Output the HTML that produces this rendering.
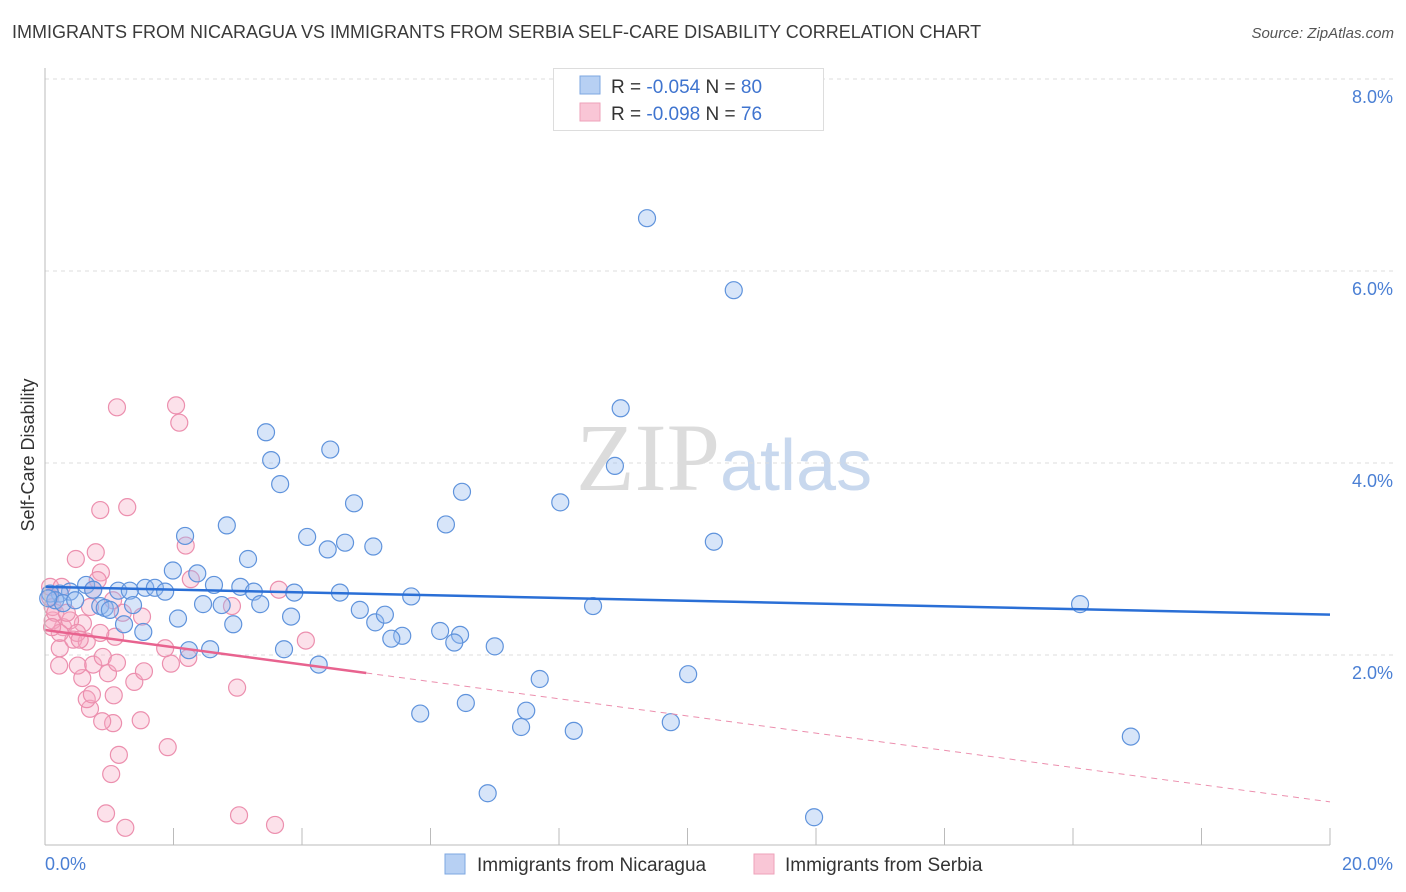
<!DOCTYPE html>
<html><head><meta charset="utf-8"><style>
body{margin:0;width:1406px;height:892px;background:#fff;font-family:"Liberation Sans",sans-serif;overflow:hidden;position:relative}
.t{position:absolute}
</style></head><body>
<div class="t" style="left:12px;top:22px;font-size:18px;color:#3a3a3a">IMMIGRANTS FROM NICARAGUA VS IMMIGRANTS FROM SERBIA SELF-CARE DISABILITY CORRELATION CHART</div>
<div class="t" style="right:12px;top:25px;font-size:15px;color:#555;font-style:italic">Source: ZipAtlas.com</div>
<svg id="chart" width="1406" height="892" style="position:absolute;left:0;top:0" font-family="Liberation Sans, sans-serif">
<text x="720" y="490" text-anchor="end" font-size="96" fill="#dcdcdc" font-family="Liberation Serif, serif">ZIP</text>
<text x="720" y="490" font-size="72" fill="#c8d8ee">atlas</text>
<text transform="translate(34,455) rotate(-90)" text-anchor="middle" font-size="18" fill="#333">Self-Care Disability</text>
<g id="grid"></g><g id="pts"></g><g id="lines"></g>
<line x1="45" y1="68" x2="45" y2="845" stroke="#bbb"/>
<line x1="45" y1="845" x2="1330" y2="845" stroke="#bbb"/>
<text x="45" y="870" font-size="18" fill="#4a7fd4">0.0%</text>
<text x="1393" y="870" text-anchor="end" font-size="18" fill="#4a7fd4">20.0%</text>
<g>
<rect x="553.5" y="68.5" width="270" height="62" fill="#fff" stroke="#ddd"/>
<rect x="580" y="76" width="20" height="18" fill="#b7d0f3" stroke="#7ea7e2"/>
<rect x="580" y="103" width="20" height="18" fill="#f9c6d6" stroke="#eea2ba"/>
<text x="611" y="93" font-size="19" fill="#333">R = <tspan fill="#3f74cf">-0.054</tspan>   N = <tspan fill="#3f74cf">80</tspan></text>
<text x="611" y="120" font-size="19" fill="#333">R = <tspan fill="#3f74cf">-0.098</tspan>   N = <tspan fill="#3f74cf"> 76</tspan></text>
</g>
<g>
<rect x="445" y="854" width="20" height="20" fill="#b7d0f3" stroke="#7ea7e2"/>
<text x="477" y="871" font-size="19" fill="#333">Immigrants from Nicaragua</text>
<rect x="754" y="854" width="20" height="20" fill="#f9c6d6" stroke="#eea2ba"/>
<text x="785" y="871" font-size="19" fill="#333">Immigrants from Serbia</text>
</g>
</svg>
<script>
const yTicks=[2,4,6,8];
const yTickLabels=["2.0%","4.0%","6.0%","8.0%"];
const xTicks=[0,2,4,6,8,10,12,14,16,18,20];
const blueX=[9.37,10.72,8.96,3.44,3.52,4.44,3.66,8.87,6.49,4.81,8.02,2.83,6.24,2.18,4.08,4.67,5.11,4.40,10.41,3.16,1.99,2.37,2.63,3.04,1.56,1.71,1.14,1.32,1.87,3.25,3.88,4.59,5.70,0.64,0.75,0.39,0.23,0.08,0.16,0.28,0.86,0.93,1.37,2.46,2.75,3.35,8.53,16.11,4.90,5.14,5.29,3.83,2.07,1.23,1.53,2.93,5.56,6.15,6.46,5.39,6.37,7.00,2.57,2.24,3.72,4.26,10.01,7.70,6.55,5.84,7.49,7.41,8.23,9.74,16.90,6.89,11.97,1.01,0.47,0.05];
const blueY=[6.55,5.80,4.57,4.32,4.03,4.14,3.78,3.97,3.70,3.58,3.59,3.35,3.36,3.24,3.23,3.17,3.13,3.10,3.18,3.00,2.88,2.85,2.73,2.71,2.70,2.70,2.67,2.67,2.66,2.66,2.65,2.65,2.61,2.73,2.68,2.66,2.64,2.64,2.57,2.54,2.51,2.49,2.52,2.53,2.52,2.53,2.51,2.53,2.47,2.34,2.42,2.40,2.38,2.32,2.24,2.32,2.20,2.25,2.21,2.17,2.13,2.09,2.06,2.05,2.06,1.90,1.80,1.75,1.50,1.39,1.42,1.25,1.21,1.30,1.15,0.56,0.31,2.47,2.57,2.59];
const pinkX=[1.12,2.04,2.09,0.86,1.28,0.48,0.79,0.87,2.19,2.27,3.64,2.91,4.06,2.99,1.91,1.15,1.03,0.95,1.25,3.02,3.58,1.49,1.06,0.89,0.70,0.65,0.73,1.07,0.58,1.39,1.54,0.98,0.51,0.22,0.75,1.96,2.23,1.87,0.90,0.23,0.44,0.65,1.09,0.86,0.59,0.28,0.12,0.39,1.51,1.21,0.70,0.12,0.08,0.16,0.23,0.50,0.75,0.82,1.06,0.11,0.34,0.54,1.12,0.08,0.26];
const pinkY=[4.58,4.60,4.42,3.51,3.54,3.00,3.07,2.86,3.14,2.79,2.68,2.51,2.15,1.66,1.04,0.96,0.76,0.35,0.20,0.33,0.23,1.32,1.29,1.31,1.44,1.54,1.59,1.58,1.76,1.72,1.83,1.81,1.89,1.89,1.90,1.91,1.97,2.07,1.98,2.07,2.16,2.14,2.19,2.23,2.33,2.29,2.36,2.36,2.40,2.44,2.50,2.50,2.60,2.44,2.23,2.23,2.68,2.78,2.57,2.29,2.44,2.16,1.92,2.71,2.71];
const blueTrend=[2.71,2.42];
const pinkTrend=[2.26,0.47];
const pinkSolidEnd=5.0;
const NS="http://www.w3.org/2000/svg";
const sx=v=>45+v/20*1285, sy=v=>847-v*96;
function mk(tag,attrs,parent){const e=document.createElementNS(NS,tag);for(const k in attrs)e.setAttribute(k,attrs[k]);parent.appendChild(e);return e;}
const grid=document.getElementById('grid'),pts=document.getElementById('pts'),lines=document.getElementById('lines');
yTicks.forEach((t,i)=>{
 const l=mk('line',{x1:45,x2:1395,y1:sy(t),y2:sy(t),stroke:'#ddd','stroke-dasharray':'4 4'},grid);
 
 
 const tx=mk('text',{x:1393,y:sy(t)+24,'text-anchor':'end','font-size':18,fill:'#4a7fd4'},grid);
 tx.textContent=yTickLabels[i];
 
 
});
xTicks.forEach(t=>{
 const l=mk('line',{x1:sx(t),x2:sx(t),y1:828,y2:845,stroke:'#bbb'},grid);
 
 
});
function dots(X,Y,fill,stroke,name){X.forEach((x,i)=>{
 const c=mk('circle',{cx:sx(x),cy:sy(Y[i]),r:8.5,fill:fill,stroke:stroke,'stroke-width':1.2},pts);
 
 
});}
dots(pinkX,pinkY,'rgba(246,168,194,0.35)','#ec8fae','serbia-point');
dots(blueX,blueY,'rgba(150,187,238,0.38)','#5f93dc','nicaragua-point');
const bl=mk('line',{x1:sx(0),y1:sy(blueTrend[0]),x2:sx(20),y2:sy(blueTrend[1]),stroke:'#2a6fd6','stroke-width':2.5},lines);


const pAt=x=>pinkTrend[0]+(pinkTrend[1]-pinkTrend[0])*x/20;
const ps=mk('line',{x1:sx(0),y1:sy(pAt(0)),x2:sx(pinkSolidEnd),y2:sy(pAt(pinkSolidEnd)),stroke:'#e8638f','stroke-width':2.5},lines);


const pd=mk('line',{x1:sx(pinkSolidEnd),y1:sy(pAt(pinkSolidEnd)),x2:sx(20),y2:sy(pAt(20)),stroke:'#ec8fae','stroke-width':1,'stroke-dasharray':'6 5'},lines);


</script>
</body></html>
